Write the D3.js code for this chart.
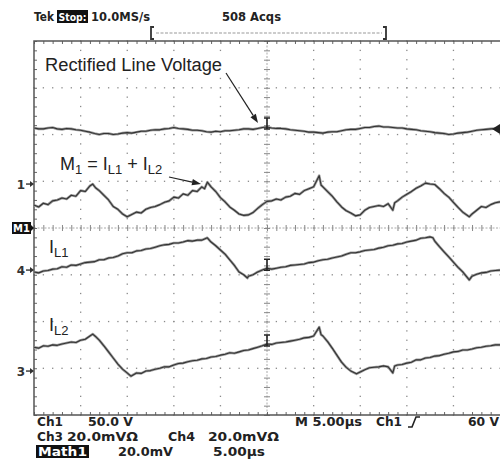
<!DOCTYPE html>
<html><head><meta charset="utf-8">
<script src="https://cdn.jsdelivr.net/npm/d3@7"></script>
<style>body{margin:0;background:#fff}svg{display:block}</style>
</head><body><svg id="c" width="500" height="460"></svg>
<script>
// time in microseconds (0..50, 5 µs/div), values in screen divisions (0 = centre, ±4)
const ch1Data = [[0,2.14],[0.5,2.12],[1,2.12],[1.5,2.14],[2,2.15],[2.5,2.12],[3,2.11],[3.5,2.13],[4,2.12],[4.5,2.10],[5,2.09],[5.5,2.07],[6,2.05],[6.5,2.02],[7,2.00],[7.5,2.02],[8,2.02],[8.5,2.00],[9,2.01],[9.5,2.03],[10,2.04],[10.5,2.03],[11,2.05],[11.5,2.07],[12,2.07],[12.5,2.09],[13,2.10],[13.5,2.10],[14,2.12],[14.5,2.13],[15,2.15],[15.5,2.13],[16,2.12],[16.5,2.11],[17,2.09],[17.5,2.09],[18,2.08],[18.5,2.06],[19,2.05],[19.5,2.07],[20,2.06],[20.5,2.08],[21,2.08],[21.5,2.09],[22,2.10],[22.5,2.12],[23,2.12],[23.5,2.11],[24,2.13],[24.5,2.15],[25,2.16],[25.5,2.14],[26,2.13],[26.5,2.13],[27,2.12],[27.5,2.10],[28,2.09],[28.5,2.08],[29,2.07],[29.5,2.05],[30,2.05],[30.5,2.04],[31,2.03],[31.5,2.05],[32,2.06],[32.5,2.06],[33,2.08],[33.5,2.10],[34,2.11],[34.5,2.11],[35,2.13],[35.5,2.15],[36,2.15],[36.5,2.17],[37,2.18],[37.5,2.16],[38,2.16],[38.5,2.15],[39,2.14],[39.5,2.14],[40,2.12],[40.5,2.11],[41,2.10],[41.5,2.08],[42,2.07],[42.5,2.06],[43,2.04],[43.5,2.03],[44,2.02],[44.5,2.00],[45,2.01],[45.5,2.03],[46,2.04],[46.5,2.05],[47,2.07],[47.5,2.09],[48,2.10],[48.5,2.11],[49,2.12],[49.5,2.13],[50,2.14]];
const m1Data = [[0,0.49],[0.5,0.45],[1,0.53],[1.5,0.50],[2,0.58],[2.5,0.60],[3,0.64],[3.5,0.62],[4,0.70],[4.5,0.68],[5,0.80],[5.5,0.78],[6,0.90],[6.3,0.94],[6.6,0.86],[7,0.80],[7.5,0.70],[8,0.60],[8.5,0.46],[9,0.40],[9.5,0.30],[10,0.24],[10.5,0.29],[11,0.34],[11.5,0.32],[12,0.40],[12.5,0.44],[13,0.46],[13.5,0.50],[14,0.55],[14.5,0.58],[15,0.66],[15.5,0.64],[16,0.73],[16.5,0.70],[17,0.80],[17.5,0.78],[18,0.88],[18.3,0.84],[18.6,0.98],[19,0.88],[19.5,0.78],[20,0.65],[20.5,0.56],[21,0.45],[21.5,0.38],[22,0.30],[22.5,0.27],[23,0.28],[23.5,0.33],[24,0.42],[24.5,0.50],[25,0.57],[25.5,0.58],[26,0.62],[26.5,0.60],[27,0.66],[27.5,0.68],[28,0.74],[28.5,0.72],[29,0.80],[29.5,0.84],[30,0.88],[30.6,1.12],[30.8,0.92],[31,0.88],[31.5,0.78],[32,0.68],[32.5,0.56],[33,0.45],[33.5,0.37],[34,0.32],[34.5,0.26],[35,0.28],[35.5,0.38],[36,0.44],[36.5,0.46],[37,0.48],[37.5,0.46],[38,0.52],[38.5,0.38],[38.7,0.54],[39,0.58],[39.5,0.66],[40,0.72],[40.5,0.78],[41,0.85],[41.5,0.90],[42,0.96],[42.5,0.94],[43,0.93],[43.5,0.84],[44,0.74],[44.5,0.66],[45,0.55],[45.5,0.44],[46,0.34],[46.7,0.24],[47,0.30],[47.5,0.38],[48,0.46],[48.5,0.44],[49,0.50],[49.5,0.54],[50,0.56]];
const il1Data = [[0,-0.94],[0.5,-0.96],[1,-0.92],[1.5,-0.91],[2,-0.88],[2.5,-0.87],[3,-0.83],[3.5,-0.84],[4,-0.79],[4.5,-0.80],[5,-0.77],[5.5,-0.74],[6,-0.73],[6.5,-0.72],[7,-0.68],[7.5,-0.68],[8,-0.64],[8.5,-0.63],[9,-0.60],[9.5,-0.55],[10,-0.53],[10.5,-0.53],[11,-0.49],[11.5,-0.48],[12,-0.45],[12.5,-0.44],[13,-0.41],[13.5,-0.38],[14,-0.36],[14.5,-0.35],[15,-0.32],[15.5,-0.32],[16,-0.30],[16.5,-0.27],[17,-0.28],[17.5,-0.26],[18,-0.26],[18.6,-0.21],[19,-0.30],[19.5,-0.38],[20,-0.47],[20.5,-0.56],[21,-0.68],[21.5,-0.80],[22,-0.94],[22.5,-1.00],[22.9,-1.07],[23,-1.03],[23.5,-1.00],[24,-0.94],[24.5,-0.90],[25,-0.86],[25.5,-0.88],[26,-0.86],[26.5,-0.84],[27,-0.83],[27.5,-0.80],[28,-0.79],[28.5,-0.78],[29,-0.77],[29.5,-0.74],[30,-0.73],[30.5,-0.70],[31,-0.68],[31.5,-0.67],[32,-0.64],[32.5,-0.62],[33,-0.60],[33.5,-0.56],[34,-0.53],[34.5,-0.53],[35,-0.51],[35.5,-0.48],[36,-0.47],[36.5,-0.46],[37,-0.43],[37.5,-0.41],[38,-0.38],[38.5,-0.37],[39,-0.34],[39.5,-0.33],[40,-0.30],[40.5,-0.28],[41,-0.26],[41.5,-0.22],[42,-0.21],[42.5,-0.19],[42.8,-0.21],[43,-0.28],[43.5,-0.40],[44,-0.51],[44.5,-0.62],[45,-0.73],[45.5,-0.84],[46,-0.94],[46.7,-1.11],[47,-1.03],[47.5,-0.99],[48,-0.96],[48.5,-0.95],[49,-0.92],[49.5,-0.91],[50,-0.90]];
const il2Data = [[0,-2.55],[0.5,-2.57],[1,-2.52],[1.5,-2.53],[2,-2.50],[2.5,-2.51],[3,-2.48],[3.5,-2.46],[4,-2.44],[4.5,-2.45],[5,-2.40],[5.5,-2.38],[6,-2.31],[6.3,-2.27],[6.6,-2.32],[7,-2.40],[7.5,-2.52],[8,-2.65],[8.5,-2.78],[9,-2.91],[9.5,-3.02],[10,-3.10],[10.4,-3.17],[11,-3.10],[11.5,-3.11],[12,-3.06],[12.5,-3.05],[13,-3.02],[13.5,-3.00],[14,-2.97],[14.5,-2.97],[15,-2.93],[15.5,-2.90],[16,-2.89],[16.5,-2.86],[17,-2.84],[17.5,-2.83],[18,-2.80],[18.5,-2.79],[19,-2.76],[19.5,-2.75],[20,-2.72],[20.5,-2.70],[21,-2.67],[21.5,-2.68],[22,-2.65],[22.5,-2.62],[23,-2.61],[23.5,-2.58],[24,-2.55],[24.5,-2.52],[25,-2.48],[25.5,-2.49],[26,-2.46],[26.5,-2.45],[27,-2.44],[27.5,-2.42],[28,-2.40],[28.5,-2.38],[29,-2.35],[29.5,-2.34],[30,-2.31],[30.6,-2.12],[30.8,-2.28],[31,-2.31],[31.5,-2.43],[32,-2.57],[32.5,-2.72],[33,-2.87],[33.5,-2.98],[34,-3.06],[34.6,-3.12],[35,-3.08],[35.5,-3.03],[36,-2.99],[36.5,-2.98],[37,-2.97],[37.5,-2.95],[38,-2.97],[38.5,-3.10],[38.7,-2.95],[39,-2.93],[39.5,-2.92],[40,-2.89],[40.5,-2.87],[41,-2.82],[41.5,-2.82],[42,-2.78],[42.5,-2.77],[43,-2.74],[43.5,-2.73],[44,-2.70],[44.5,-2.68],[45,-2.65],[45.5,-2.64],[46,-2.61],[46.5,-2.61],[47,-2.59],[47.5,-2.56],[48,-2.55],[48.5,-2.53],[49,-2.52],[49.5,-2.50],[50,-2.50]];
const channelMarkers = [["1",0.94],["M1",0],["4",-0.90],["3",-3.06]];
const triggerLevel = 2.12;   // trigger arrow level (divisions)
const triggerTime = 25;      // trigger position (µs)
const headerTexts = ["Tek","Stop:","10.0MS/s","508 Acqs"];
const footerRow1 = ["Ch1","50.0 V","M 5.00µs","Ch1","60 V"];
const footerRow2 = ["Ch3","20.0mVΩ","Ch4","20.0mVΩ"];
const footerRow3 = ["Math1","20.0mV","5.00µs"];
const traceLabel = "Rectified Line Voltage";

const svg = d3.select("#c");
svg.append("rect").attr("width",500).attr("height",460).attr("fill","#fff");
const x = d3.scaleLinear().domain([0,50]).range([34,500]);
const y = d3.scaleLinear().domain([-4,4]).range([415,41]);
const g = svg.append("g");

// dotted graticule
const divT = d3.range(5,50,5).filter(t=>t!==25);
const divV = d3.range(-3,4,1).filter(v=>v!==0);
divT.forEach(t=>{
  g.selectAll(null).data(d3.range(-4,4.001,0.2)).join("rect")
   .attr("x",x(t)-0.6).attr("y",d=>y(d)-0.6).attr("width",1.3).attr("height",1.3).attr("fill","#8a8a8a");
});
divV.forEach(v=>{
  g.selectAll(null).data(d3.range(0,50.001,1)).join("rect")
   .attr("x",d=>x(d)-0.6).attr("y",y(v)-0.6).attr("width",1.3).attr("height",1.3).attr("fill","#8a8a8a");
});
// centre cross with minor ticks
g.append("line").attr("x1",x(0)).attr("x2",x(50)).attr("y1",y(0)).attr("y2",y(0)).attr("stroke","#aaa").attr("stroke-dasharray","2,1.5");
g.append("line").attr("x1",x(25)).attr("x2",x(25)).attr("y1",y(-4)).attr("y2",y(4)).attr("stroke","#aaa").attr("stroke-dasharray","2,1.5");
g.append("g").attr("transform",`translate(0,${y(0)+3})`)
 .call(d3.axisTop(x).tickValues(d3.range(0,50.001,1)).tickSize(6).tickFormat(""))
 .call(s=>{s.select(".domain").remove();s.selectAll("line").attr("stroke","#888");});
g.append("g").attr("transform",`translate(${x(25)+3},0)`)
 .call(d3.axisLeft(y).tickValues(d3.range(-4,4.001,0.2)).tickSize(6).tickFormat(""))
 .call(s=>{s.select(".domain").remove();s.selectAll("line").attr("stroke","#888");});
// frame with ruler ticks
g.append("g").attr("transform",`translate(0,${y(4)})`)
 .call(d3.axisBottom(x).tickValues(d3.range(0,50.001,1)).tickSize(3).tickFormat(""))
 .call(s=>{s.select(".domain").remove();s.selectAll("line").attr("stroke","#666");});
g.append("g").attr("transform",`translate(0,${y(-4)})`)
 .call(d3.axisTop(x).tickValues(d3.range(0,50.001,1)).tickSize(3).tickFormat(""))
 .call(s=>{s.select(".domain").remove();s.selectAll("line").attr("stroke","#666");});
g.append("g").attr("transform",`translate(${x(0)},0)`)
 .call(d3.axisRight(y).tickValues(d3.range(-4,4.001,0.2)).tickSize(3).tickFormat(""))
 .call(s=>{s.select(".domain").remove();s.selectAll("line").attr("stroke","#666");});
g.append("path").attr("d",`M${x(50)},${y(4)}H${x(0)}V${y(-4)}H${x(50)}`).attr("fill","none").attr("stroke","#555").attr("stroke-width",1.5);

// label backgrounds (text sits over the graticule)
const lf = "'Liberation Sans', Arial, sans-serif";
g.append("rect").attr("x",42).attr("y",55).attr("width",184).attr("height",22).attr("fill","#fff");
g.append("rect").attr("x",58).attr("y",154).attr("width",110).attr("height",24).attr("fill","#fff");

// traces
const line = d3.line().x(d=>x(d[0])).y(d=>y(d[1])).curve(d3.curveLinear);
[ch1Data,m1Data,il1Data,il2Data].forEach(dat=>{
  g.append("path").attr("d",line(dat)).attr("fill","none").attr("stroke","#9a9a9a").attr("stroke-width",2.6).attr("stroke-linejoin","round");
  g.append("path").attr("d",line(dat)).attr("fill","none").attr("stroke","#333").attr("stroke-width",1.1).attr("stroke-linejoin","round");
});
// I-beam trigger-position markers
[ch1Data,il1Data,il2Data].forEach(dat=>{
  const v = dat.find(d=>d[0]===triggerTime)[1];
  const cx = x(triggerTime), cy = y(v);
  g.append("path").attr("d",`M${cx-3},${cy-9}H${cx+3}M${cx},${cy-9}V${cy+2}M${cx-3},${cy+2}H${cx+3}`)
   .attr("stroke","#222").attr("stroke-width",1.6).attr("fill","none");
});
// trigger level arrow at right edge
const ty = y(triggerLevel);
g.append("path").attr("d",`M492,${ty}L500,${ty-5}L500,${ty+5}Z`).attr("fill","#222");

// channel ground markers at left
const font = "'DejaVu Sans', sans-serif";
channelMarkers.forEach(([lab,v])=>{
  const yy = y(v);
  if(lab==="M1"){
    g.append("rect").attr("x",12).attr("y",yy-6).attr("width",19).attr("height",12).attr("fill","#111");
    g.append("text").attr("x",21.5).attr("y",yy+4).attr("text-anchor","middle").attr("font-family",font).attr("font-weight","bold").attr("font-size",10).attr("fill","#fff").text(lab);
    g.append("path").attr("d",`M31,${yy-3}L34,${yy}L31,${yy+3}Z`).attr("fill","#111");
  } else {
    g.append("text").attr("x",25).attr("y",yy+4.5).attr("text-anchor","end").attr("font-family",font).attr("font-weight","bold").attr("font-size",12).attr("fill","#333").text(lab);
    g.append("path").attr("d",`M26,${yy}H32`).attr("stroke","#333").attr("stroke-width",1.4);
    g.append("path").attr("d",`M30,${yy-3}L34,${yy}L30,${yy+3}Z`).attr("fill","#333");
  }
});

// annotations
g.append("text").attr("x",45).attr("y",71).attr("font-family",lf).attr("font-size",18).attr("fill","#222")
 .attr("textLength",177).attr("lengthAdjust","spacingAndGlyphs").text(traceLabel);
function sub(parts, xx, yy){
  const tx = g.append("text").attr("x",xx).attr("y",yy).attr("font-family",lf).attr("font-size",18).attr("fill","#222");
  parts.forEach(([s,isSub])=>{
    tx.append("tspan").attr("font-size",isSub?13:18).attr("baseline-shift",isSub?"-4":"0").text(s);
  });
}
sub([["M",0],["1",1],[" = I",0],["L1",1],[" + I",0],["L2",1]],60,170);
sub([["I",0],["L1",1]],49,253);
sub([["I",0],["L2",1]],49,331);
function arrow(x1,y1,x2,y2){
  const a = Math.atan2(y2-y1,x2-x1), L=9, w=3.2;
  const bx = x2-L*Math.cos(a), by = y2-L*Math.sin(a);
  g.append("line").attr("x1",x1).attr("y1",y1).attr("x2",bx).attr("y2",by).attr("stroke","#222").attr("stroke-width",1.2);
  g.append("path").attr("d",`M${x2},${y2}L${bx-w*Math.sin(a)},${by+w*Math.cos(a)}L${bx+w*Math.sin(a)},${by-w*Math.cos(a)}Z`).attr("fill","#222");
}
arrow(226,73,258,123);
arrow(169,177,201,184);

// header
const hdr = svg.append("g").attr("font-family",font).attr("font-weight","bold").attr("font-size",12).attr("fill","#222");
hdr.append("text").attr("x",34).attr("y",21).attr("textLength",20).attr("lengthAdjust","spacingAndGlyphs").text(headerTexts[0]);
hdr.append("rect").attr("x",57).attr("y",10).attr("width",31).attr("height",13).attr("fill","#111");
hdr.append("text").attr("x",58.5).attr("y",21).attr("fill","#fff").attr("font-size",11).attr("textLength",28).attr("lengthAdjust","spacingAndGlyphs").text(headerTexts[1]);
hdr.append("text").attr("x",91).attr("y",21).attr("textLength",59).attr("lengthAdjust","spacingAndGlyphs").text(headerTexts[2]);
hdr.append("text").attr("x",222).attr("y",21).attr("textLength",59).attr("lengthAdjust","spacingAndGlyphs").text(headerTexts[3]);
svg.append("path").attr("d","M154,27H151V39H154M383,27H386V39H383").attr("fill","none").attr("stroke","#333").attr("stroke-width",1.8);
svg.append("line").attr("x1",156).attr("x2",382).attr("y1",33).attr("y2",33).attr("stroke","#999").attr("stroke-dasharray","3,1.5");

// footer
const ft = svg.append("g").attr("font-family",font).attr("font-weight","bold").attr("font-size",12.5).attr("fill","#222");
function ftxt(s,xx,yy,len,fill){
  return ft.append("text").attr("x",xx).attr("y",yy).attr("textLength",len).attr("lengthAdjust","spacingAndGlyphs").attr("fill",fill||"#222").text(s);
}
const r1x = [37,88,295,376,468], r1w = [26,45,67,26,31];
footerRow1.forEach((s,i)=>ftxt(s,r1x[i],426,r1w[i]));
ft.append("path").attr("d","M408,427H412L416,417H420").attr("fill","none").attr("stroke","#222").attr("stroke-width",1.6);
const r2x = [37,67,168,208], r2w = [26,71,27,71];
footerRow2.forEach((s,i)=>ftxt(s,r2x[i],441,r2w[i]));
ft.append("rect").attr("x",36).attr("y",445).attr("width",53).attr("height",13).attr("fill","#111");
ftxt(footerRow3[0],38,456,49,"#fff");
ftxt(footerRow3[1],118,456,55);
ftxt(footerRow3[2],213,456,52);
</script></body></html>
